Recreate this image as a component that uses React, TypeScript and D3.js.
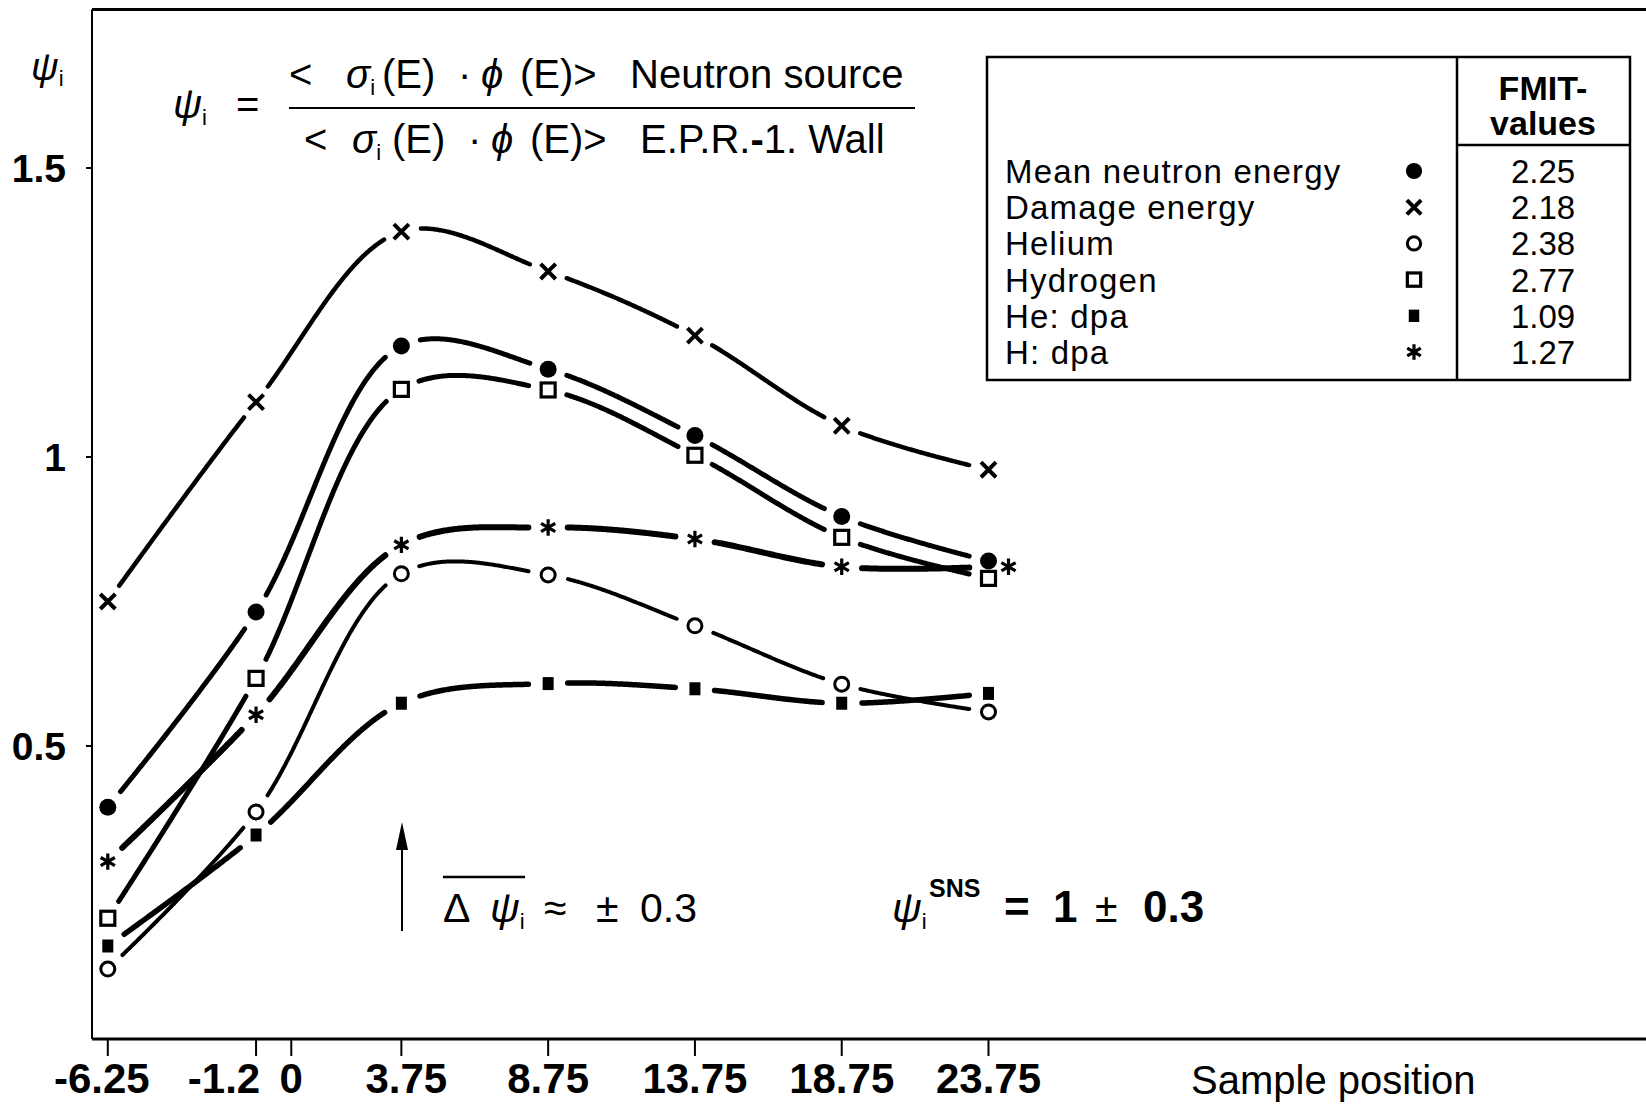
import React from "react";
import * as d3 from "d3";

// ---------- data ----------
const samplePositions = [-6.25, -1.2, 3.75, 8.75, 13.75, 18.75, 23.75];
const meanNeutronEnergy = [0.394, 0.732, 1.192, 1.152, 1.037, 0.897, 0.82];
const damageEnergy = [0.75, 1.095, 1.39, 1.321, 1.21, 1.054, 0.978];
const helium = [0.114, 0.386, 0.798, 0.796, 0.708, 0.607, 0.559];
const hydrogen = [0.202, 0.617, 1.117, 1.116, 1.003, 0.861, 0.79];
const heDpa = [0.154, 0.346, 0.574, 0.608, 0.599, 0.574, 0.591];
const hDpa = [0.3, 0.554, 0.848, 0.878, 0.858, 0.81, 0.81];

const seriesLabels = ["Mean neutron energy", "Damage energy", "Helium", "Hydrogen", "He: dpa", "H: dpa"];
const seriesSymbols = ["dot", "times", "circle", "square", "filledSquare", "asterisk"];
const fmitValues = ["2.25", "2.18", "2.38", "2.77", "1.09", "1.27"];

const xTickValues = [-6.25, -1.2, 0, 3.75, 8.75, 13.75, 18.75, 23.75];
const xTickLabels = ["-6.25", "-1.2", "0", "3.75", "8.75", "13.75", "18.75", "23.75"];
const yTickValues = [0.5, 1, 1.5];
const yTickLabels = ["0.5", "1", "1.5"];

const seriesValues = [meanNeutronEnergy, damageEnergy, helium, hydrogen, heDpa, hDpa];
const lineWidths = [5, 4.5, 4, 5, 5.5, 6];

// ---------- layout ----------
const W = 1646;
const H = 1105;
const LEFT = 92;
const TOP = 9.5;
const BOTTOM = 1039;
const GAP_R = 19;
const FONT = "'Liberation Sans', Arial, Helvetica, sans-serif";

const x = d3.scaleLinear().domain([-6.25, 23.75]).range([107.8, 988.5]);
const y = d3.scaleLinear().domain([0.5, 1.5]).range([746, 168]);

// Records the commands d3.line emits, so the curve can be flattened.
class Recorder {
  pts: [number, number][] = [];
  cur: [number, number] = [0, 0];
  moveTo(px: number, py: number) {
    this.cur = [px, py];
    this.pts.push([px, py]);
  }
  lineTo(px: number, py: number) {
    const [x0, y0] = this.cur;
    const n = Math.max(2, Math.ceil(Math.hypot(px - x0, py - y0)));
    for (let i = 1; i <= n; i++) {
      const t = i / n;
      this.pts.push([x0 + (px - x0) * t, y0 + (py - y0) * t]);
    }
    this.cur = [px, py];
  }
  bezierCurveTo(c1x: number, c1y: number, c2x: number, c2y: number, px: number, py: number) {
    const [x0, y0] = this.cur;
    const n = 120;
    for (let i = 1; i <= n; i++) {
      const t = i / n;
      const u = 1 - t;
      const bx = u * u * u * x0 + 3 * u * u * t * c1x + 3 * u * t * t * c2x + t * t * t * px;
      const by = u * u * u * y0 + 3 * u * u * t * c1y + 3 * u * t * t * c2y + t * t * t * py;
      this.pts.push([bx, by]);
    }
    this.cur = [px, py];
  }
  closePath() {}
  quadraticCurveTo() {}
  arc() {}
  rect() {}
}

function brokenCurve(points: [number, number][]) {
  const rec = new Recorder();
  d3.line<[number, number]>()
    .x((d) => x(d[0]))
    .y((d) => y(d[1]))
    .curve(d3.curveCatmullRom.alpha(0.5))
    .context(rec as any)(points);
  const centers = points.map((p) => [x(p[0]), y(p[1])]);
  let d = "";
  let drawing = false;
  for (const [px, py] of rec.pts) {
    const hidden = centers.some(([cx, cy]) => Math.hypot(px - cx, py - cy) < GAP_R);
    if (hidden) {
      drawing = false;
      continue;
    }
    d += `${drawing ? "L" : "M"}${px.toFixed(2)},${py.toFixed(2)}`;
    drawing = true;
  }
  return d;
}

function Marker({ kind, cx, cy, k = 1 }: { kind: string; cx: number; cy: number; k?: number }) {
  const t = `translate(${cx},${cy})`;
  switch (kind) {
    case "dot":
      return <circle cx={cx} cy={cy} r={8.5 * k} fill="#000" />;
    case "circle":
      return <circle cx={cx} cy={cy} r={7 * k} fill="#fff" stroke="#000" strokeWidth={3} />;
    case "square":
      return (
        <rect x={cx - 7 * k} y={cy - 7 * k} width={14 * k} height={14 * k} fill="#fff" stroke="#000" strokeWidth={3.2} />
      );
    case "filledSquare":
      return <rect x={cx - 5.5 * k} y={cy - 6.5 * k} width={11 * k} height={13 * k} fill="#000" />;
    case "times":
      return (
        <path
          transform={t}
          d={d3.symbol(d3.symbolTimes, 150 * k * k)() as string}
          fill="none"
          stroke="#000"
          strokeWidth={4}
        />
      );
    case "asterisk":
      return (
        <path
          transform={t}
          d={d3.symbol(d3.symbolAsterisk, 190 * k * k)() as string}
          fill="none"
          stroke="#000"
          strokeWidth={3.2}
        />
      );
    default:
      return null;
  }
}

const xLabelNudge: Record<string, number> = { "-6.25": -6, "-1.2": -32, "3.75": 5 };

export default function App() {
  const series = seriesValues.map((vals, i) => ({
    name: seriesLabels[i],
    symbol: seriesSymbols[i],
    width: lineWidths[i],
    points: samplePositions.map((p, j) => [p, vals[j]] as [number, number]),
  }));

  const legendRowY = (i: number) => 171 + i * 36.2;
  const pre = { whiteSpace: "pre" as const };

  return (
    <svg
      width={W}
      height={H}
      viewBox={`0 0 ${W} ${H}`}
      style={{ position: "absolute", left: 0, top: 0, background: "#fff" }}
      fontFamily={FONT}
    >
      <rect x={0} y={0} width={W} height={H} fill="#fff" />

      {/* frame */}
      <line x1={LEFT} y1={TOP} x2={W} y2={TOP} stroke="#000" strokeWidth={3} />
      <line x1={LEFT} y1={BOTTOM} x2={W} y2={BOTTOM} stroke="#000" strokeWidth={3} />
      <line x1={LEFT} y1={TOP} x2={LEFT} y2={BOTTOM} stroke="#000" strokeWidth={2} />

      {/* y ticks */}
      {yTickValues.map((v, i) => (
        <g key={v}>
          <line x1={LEFT - 6} x2={LEFT} y1={y(v)} y2={y(v)} stroke="#000" strokeWidth={2} />
          <text x={LEFT - 26} y={y(v) + 14} textAnchor="end" fontWeight="bold" fontSize={39}>
            {yTickLabels[i]}
          </text>
        </g>
      ))}

      {/* x ticks */}
      {xTickValues.map((v, i) => (
        <g key={v}>
          <line x1={x(v)} x2={x(v)} y1={BOTTOM} y2={BOTTOM + 17} stroke="#000" strokeWidth={2} />
          <text
            x={x(v) + (xLabelNudge[xTickLabels[i]] || 0)}
            y={1093}
            textAnchor="middle"
            fontWeight="bold"
            fontSize={42}
          >
            {xTickLabels[i]}
          </text>
        </g>
      ))}
      <text x={1191} y={1094} fontSize={40}>
        Sample position
      </text>

      {/* y label */}
      <text x={31} y={80} fontSize={38} fontStyle="italic">
        ψ<tspan fontSize={22} fontStyle="normal" dy={6}>i</tspan>
      </text>

      {/* formula */}
      <text y={118} fontSize={40}>
        <tspan x={173} fontStyle="italic">ψ</tspan>
        <tspan fontSize={22} dy={7}>i</tspan>
        <tspan x={236} dy={-7}>=</tspan>
      </text>
      <text y={88} fontSize={40} style={pre}>
        <tspan x={289}>{"<"}</tspan>
        <tspan x={346} fontStyle="italic">σ</tspan>
        <tspan fontSize={22} dy={7}>i</tspan>
        <tspan x={382} dy={-7}>(E)</tspan>
        <tspan x={458}>·</tspan>
        <tspan x={481} fontStyle="italic">ϕ</tspan>
        <tspan x={520}>{"(E)>"}</tspan>
        <tspan x={630}>Neutron source</tspan>
      </text>
      <line x1={289} x2={915} y1={108} y2={108} stroke="#000" strokeWidth={2} />
      <text y={153} fontSize={40} style={pre}>
        <tspan x={304}>{"<"}</tspan>
        <tspan x={352} fontStyle="italic">σ</tspan>
        <tspan fontSize={22} dy={7}>i</tspan>
        <tspan x={392} dy={-7}>(E)</tspan>
        <tspan x={468}>·</tspan>
        <tspan x={491} fontStyle="italic">ϕ</tspan>
        <tspan x={530}>{"(E)>"}</tspan>
        <tspan x={640}>E.P.R.</tspan>
        <tspan fontWeight="bold">-</tspan>
        <tspan>1. Wall</tspan>
      </text>

      {/* series lines, broken around their own markers */}
      {series.map((s) => (
        <path
          key={s.name}
          d={brokenCurve(s.points)}
          fill="none"
          stroke="#000"
          strokeWidth={s.width}
          strokeLinecap="round"
          strokeLinejoin="round"
        />
      ))}
      {/* markers */}
      {series.map((s) =>
        s.points.map((p, j) => {
          const shift = s.symbol === "asterisk" && j === s.points.length - 1 ? 20 : 0;
          return <Marker key={s.name + j} kind={s.symbol} cx={x(p[0]) + shift} cy={y(p[1])} />;
        })
      )}

      {/* arrow and annotations */}
      <line x1={402} x2={402} y1={931} y2={840} stroke="#000" strokeWidth={2} />
      <path d="M402,822 L396,850 L408,850 Z" fill="#000" />
      <line x1={443} x2={525} y1={877} y2={877} stroke="#000" strokeWidth={2.5} />
      <text y={922} fontSize={41} style={pre}>
        <tspan x={443}>Δ</tspan>
        <tspan x={490} fontStyle="italic">ψ</tspan>
        <tspan fontSize={22} dy={7}>i</tspan>
        <tspan x={544} dy={-7}>≈</tspan>
        <tspan x={596}>±</tspan>
        <tspan x={640}>0.3</tspan>
      </text>
      <text y={922} fontSize={41} style={pre}>
        <tspan x={892} fontStyle="italic">ψ</tspan>
        <tspan fontSize={22} dy={7}>i</tspan>
        <tspan x={929} fontSize={25} fontWeight="bold" dy={-32}>SNS</tspan>
        <tspan x={1004} dy={25} fontWeight="bold" fontSize={44}>=</tspan>
        <tspan x={1053} fontWeight="bold" fontSize={44}>1</tspan>
        <tspan x={1095}>±</tspan>
        <tspan x={1143} fontWeight="bold" fontSize={44}>0.3</tspan>
      </text>

      {/* legend */}
      <rect x={987} y={57} width={643} height={323} fill="#fff" stroke="#000" strokeWidth={2.5} />
      <line x1={1457} x2={1457} y1={57} y2={380} stroke="#000" strokeWidth={2.5} />
      <line x1={1457} x2={1630} y1={145} y2={145} stroke="#000" strokeWidth={2.5} />
      <text x={1543} y={100} textAnchor="middle" fontWeight="bold" fontSize={34}>
        FMIT-
      </text>
      <text x={1543} y={135} textAnchor="middle" fontWeight="bold" fontSize={34}>
        values
      </text>
      {seriesLabels.map((lab, i) => (
        <g key={lab}>
          <text x={1005} y={legendRowY(i) + 12} fontSize={33} letterSpacing={1.2}>
            {lab}
          </text>
          <Marker kind={seriesSymbols[i]} cx={1414} cy={legendRowY(i)} k={0.95} />
          <text x={1543} y={legendRowY(i) + 12} textAnchor="middle" fontSize={33}>
            {fmitValues[i]}
          </text>
        </g>
      ))}
    </svg>
  );
}
